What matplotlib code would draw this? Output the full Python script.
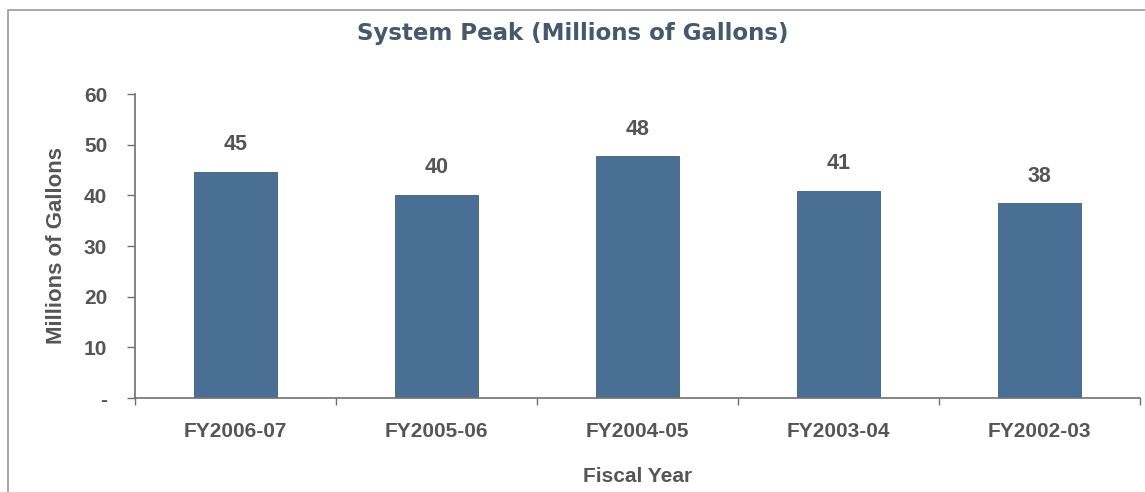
import matplotlib.pyplot as plt
from matplotlib.patches import Rectangle
from matplotlib.ticker import FixedLocator

years = ['FY2006-07', 'FY2005-06', 'FY2004-05', 'FY2003-04', 'FY2002-03']
peak = [44.6, 40.1, 47.7, 40.9, 38.4]
ytick_vals = [0, 10, 20, 30, 40, 50, 60]
ytick_labels = ['-', '10', '20', '30', '40', '50', '60']

grey = '#555555'
bar_color = '#4a6f95'

plt.rcParams['font.family'] = ['Liberation Sans', 'DejaVu Sans']

fig = plt.figure(figsize=(11.45, 4.92), dpi=100)
ax = fig.add_axes([135 / 1145, 94 / 492, 1005 / 1145, 304 / 492])

# outer frame of the chart area
fig.patches.append(Rectangle((8 / 1145, -0.05), 1.1, (492 - 10) / 492 + 0.05,
                             transform=fig.transFigure, fill=False,
                             edgecolor='#9a9a9a', linewidth=1.2))

x = range(len(years))
bars = ax.bar(x, peak, width=0.41, color=bar_color, edgecolor='#3d5f80', linewidth=0.6)
for xi, v in zip(x, peak):
    ax.annotate(f'{v:.0f}', (xi, v), xytext=(0, 12), textcoords='offset points',
                ha='center', va='bottom', fontsize=15.5, fontweight='bold', color=grey)

ax.set_xlim(-0.5, len(years) - 0.5)
ax.set_ylim(0, 60)
ax.set_yticks(ytick_vals)
ax.set_yticklabels(ytick_labels)
ax.set_xticks(list(x))
ax.set_xticklabels(years)
ax.xaxis.set_minor_locator(FixedLocator([i + 0.5 for i in range(-1, len(years))]))

ax.tick_params(axis='y', direction='out', length=6, width=1, color='#707070',
               pad=14, labelsize=15, labelcolor=grey)
ax.tick_params(axis='x', which='major', length=0, pad=17, labelsize=15, labelcolor=grey)
ax.tick_params(axis='x', which='minor', direction='out', length=5, width=1, color='#707070')
for lbl in ax.get_xticklabels() + ax.get_yticklabels():
    lbl.set_fontweight('bold')

for side in ['top', 'right']:
    ax.spines[side].set_visible(False)
for side in ['left', 'bottom']:
    ax.spines[side].set_color('#707070')
    ax.spines[side].set_linewidth(1.2)

ax.set_ylabel('Millions of Gallons', fontsize=16, fontweight='bold', color=grey, labelpad=12)
ax.set_xlabel('Fiscal Year', fontsize=15, fontweight='bold', color=grey, labelpad=19)

fig.text(0.5, 1 - 33 / 492, 'System Peak (Millions of Gallons)', ha='center', va='center',
         fontsize=16.5, fontweight='bold', color='#45596d', family='DejaVu Sans')

fig.savefig('out.png', dpi=100)
